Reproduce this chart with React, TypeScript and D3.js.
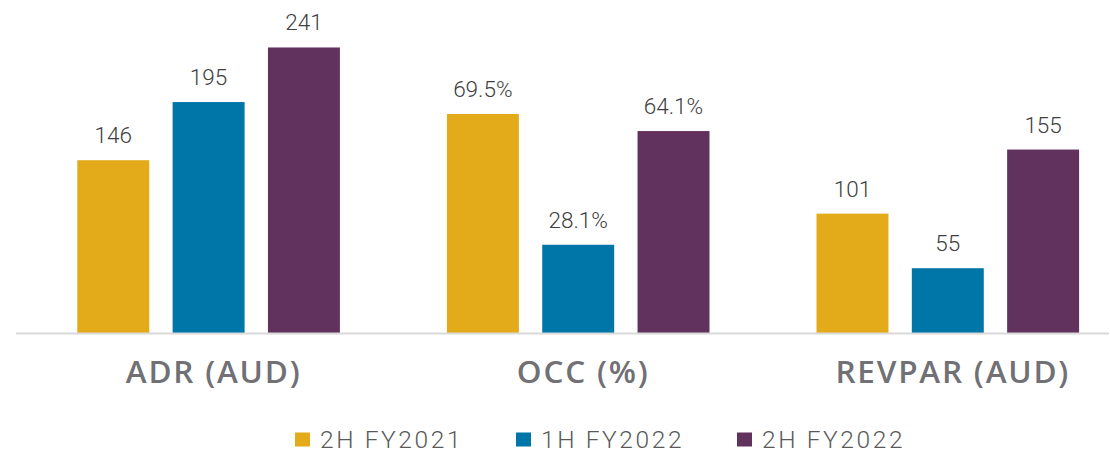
import React from 'react';
import * as d3 from 'd3';

const categories = ['ADR (AUD)', 'OCC (%)', 'REVPAR (AUD)'];
const units = ['aud', 'pct', 'aud'];
const seriesNames = ['2H FY2021', '1H FY2022', '2H FY2022'];
const seriesColors = ['#E3AA1A', '#0076A8', '#62325F'];
const values2H21 = [146, 69.5, 101];
const values1H22 = [195, 28.1, 55];
const values2H22 = [241, 64.1, 155];

const seriesValues = [values2H21, values1H22, values2H22];

const width = 1110;
const height = 452;
const baseline = 333.5;

const App: React.FC = () => {
  // group scale and inner bar scale
  const x0 = d3.scaleBand<string>()
    .domain(categories)
    .range([23.8, 23.8 + 369.6 * 3])
    .padding(0);

  const x1 = d3.scaleBand<string>()
    .domain(seriesNames)
    .range([53.5, 316.1])
    .paddingInner(0.245)
    .paddingOuter(0);

  // AUD and % sit on separate value axes
  const yAud = d3.scaleLinear().domain([0, 281]).range([baseline, 0]);
  const yPct = d3.scaleLinear().domain([0, 105.6]).range([baseline, 0]);

  const fmt = (v: number, unit: string) =>
    unit === 'pct' ? `${d3.format('.1f')(v)}%` : d3.format('d')(v);

  const legendX = d3.scalePoint<string>()
    .domain(seriesNames)
    .range([295, 737]);

  return (
    <div style={{ position: 'fixed', left: 0, top: 0 }}>
      <svg width={width} height={height} style={{ display: 'block', background: '#ffffff' }}>
        {categories.map((cat, ci) => {
          const y = units[ci] === 'pct' ? yPct : yAud;
          const gx = x0(cat) ?? 0;
          return (
            <g key={cat} transform={`translate(${gx},0)`}>
              {seriesNames.map((s, si) => {
                const v = seriesValues[si][ci];
                const bx = x1(s) ?? 0;
                const bw = x1.bandwidth();
                return (
                  <g key={s}>
                    <rect
                      x={bx}
                      y={y(v)}
                      width={bw}
                      height={baseline - y(v)}
                      fill={seriesColors[si]}
                    />
                    <text
                      x={bx + bw / 2}
                      y={y(v) - 17}
                      textAnchor="middle"
                      fontFamily="Roboto"
                      fontWeight={300}
                      fontSize={22.5}
                      fill="#404040"
                    >
                      {fmt(v, units[ci])}
                    </text>
                  </g>
                );
              })}
              <text
                x={x0.bandwidth() / 2 + 5}
                y={383}
                textAnchor="middle"
                fontFamily="'Open Sans'"
                fontWeight={600}
                fontSize={31.5}
                letterSpacing={1.8}
                fill="#707075"
              >
                {cat}
              </text>
            </g>
          );
        })}

        {/* baseline */}
        <line x1={16} x2={1109} y1={baseline} y2={baseline} stroke="#d9d9d9" strokeWidth={2} />

        {/* legend */}
        {seriesNames.map((s, si) => {
          const lx = legendX(s) ?? 0;
          return (
            <g key={s} transform={`translate(${lx},0)`}>
              <rect x={0} y={432.5} width={15} height={14} fill={seriesColors[si]} />
              <text
                x={25}
                y={447.5}
                fontFamily="Roboto"
                fontWeight={300}
                fontSize={24.5}
                letterSpacing={2.6}
                fill="#595959"
              >
                {s}
              </text>
            </g>
          );
        })}
      </svg>
    </div>
  );
};

export default App;
